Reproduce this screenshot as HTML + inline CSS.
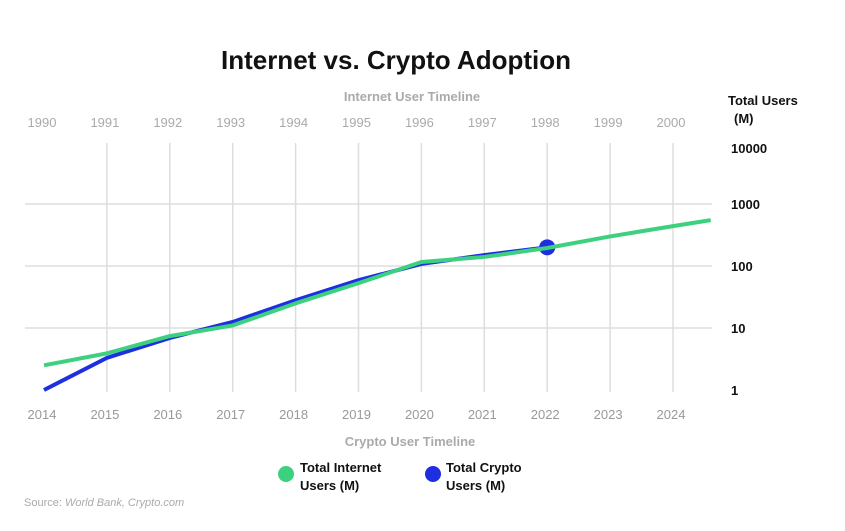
<!DOCTYPE html>
<html><head><meta charset="utf-8"><style>
body{margin:0;background:#fff;}
svg text{font-family:"Liberation Sans",sans-serif;}
</style></head><body>
<svg id="chart" width="845" height="526" viewBox="0 0 845 526">
<text x="396" y="69" text-anchor="middle" font-size="26" font-weight="bold" fill="#111">Internet vs. Crypto Adoption</text>
<text x="412" y="101" text-anchor="middle" font-size="13" font-weight="bold" fill="#aaa">Internet User Timeline</text>
<text x="410" y="446" text-anchor="middle" font-size="13" font-weight="bold" fill="#aaa">Crypto User Timeline</text>
<text x="728" y="105" font-size="13" font-weight="bold" fill="#111">Total Users</text>
<text x="734" y="123" font-size="13" font-weight="bold" fill="#111">(M)</text>
<g id="grid"></g><g id="ticks"></g><g id="series"></g>
<circle cx="286" cy="474" r="8" fill="#3dd17f"/>
<text x="300" y="472" font-size="13" font-weight="bold" fill="#111"><tspan x="300">Total Internet</tspan><tspan x="300" dy="18">Users (M)</tspan></text>
<circle cx="433" cy="474" r="8" fill="#1d2fe0"/>
<text x="446" y="472" font-size="13" font-weight="bold" fill="#111"><tspan x="446">Total Crypto</tspan><tspan x="446" dy="18">Users (M)</tspan></text>
<text x="24" y="506" font-size="11" fill="#aaa">Source: <tspan font-style="italic">World Bank, Crypto.com</tspan></text>
</svg>
<script>
const cryptoYears=[2014,2015,2016,2017,2018,2019,2020,2021,2022];
const topYears=["1990","1991","1992","1993","1994","1995","1996","1997","1998","1999","2000"];
const internetYears=[2014,2015,2016,2017,2018,2019,2020,2021,2022,2023,2024,2024.6];
const internetUsers=[2.5,3.9,7.4,11,25,53,116,140,195,300,440,550];
const cryptoUsers=[1,3.3,6.9,12.5,28,59,108,150,200];
const yTicks=[1,10,100,1000,10000];
const NS="http://www.w3.org/2000/svg";
const xS=y=>44+(y-2014)*62.9;
const yS=v=>390-62*Math.log10(v);
function mk(tag,attrs,parent){const e=document.createElementNS(NS,tag);for(const k in attrs)e.setAttribute(k,attrs[k]);document.getElementById(parent).appendChild(e);return e;}
for(let i=1;i<=10;i++){const l=mk('line',{x1:xS(2014+i),x2:xS(2014+i),y1:143,y2:392,stroke:'#ddd','stroke-width':1.5},'grid');

}
yTicks.forEach(v=>{if(v>1&&v<10000){const l=mk('line',{x1:25,x2:712,y1:yS(v),y2:yS(v),stroke:'#ddd','stroke-width':1.5},'grid');

}
const t=mk('text',{x:731,y:(v===10000?148:yS(v))+5,'font-size':13,'font-weight':'bold',fill:'#111'},'ticks');t.textContent=v;

});
cryptoYears.concat([2023,2024]).forEach(y=>{const t=mk('text',{x:xS(y)-2,y:419,'text-anchor':'middle','font-size':13,fill:'#999'},'ticks');t.textContent=y;

});
topYears.forEach((y,i)=>{const t=mk('text',{x:xS(2014+i)-2,y:127,'text-anchor':'middle','font-size':13,fill:'#aaa'},'ticks');t.textContent=y;

});
const pc=mk('polyline',{points:cryptoYears.map((y,i)=>xS(y)+','+yS(cryptoUsers[i])).join(' '),fill:'none',stroke:'#1d2fe0','stroke-width':4,'stroke-linejoin':'round'},'series');


const last=cryptoYears.length-1;
const dot=mk('circle',{cx:xS(cryptoYears[last]),cy:yS(cryptoUsers[last]),r:8,fill:'#1d2fe0'},'series');


const pi=mk('polyline',{points:internetYears.map((y,i)=>xS(y)+','+yS(internetUsers[i])).join(' '),fill:'none',stroke:'#3dd17f','stroke-width':4,'stroke-linejoin':'round'},'series');


</script>
</body></html>
